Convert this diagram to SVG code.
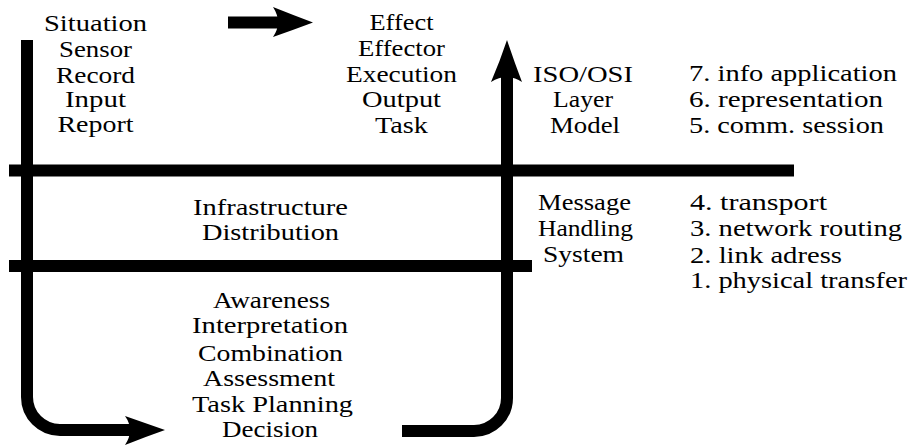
<svg xmlns="http://www.w3.org/2000/svg" width="913" height="446" viewBox="0 0 913 446">
<style>
text{font-family:"Liberation Serif","DejaVu Serif","Times New Roman",serif;font-size:23px;fill:#000}
.c{text-anchor:middle}
.l{text-anchor:start}
.bar{fill:none;stroke:#000;stroke-width:12}
.head{fill:#000;stroke:none}
</style>
<rect width="913" height="446" fill="#fff"/>
<g id="connectors">
<line class="bar" x1="9" y1="170.5" x2="794" y2="170.5"/>
<line class="bar" x1="9" y1="266" x2="532" y2="266"/>
<path class="bar" d="M27,40 V397 A33,33 0 0 0 60,430 H132"/>
<path class="head" d="M165,430 Q145,423 125,416 Q135,430 125,445 Q145,437 165,430 Z"/>
<path class="bar" d="M402,431 H474 A33,33 0 0 0 507,398 V76"/>
<path class="head" d="M507,40 Q500,61 491,82 Q507,72 522,82 Q514,61 507,40 Z"/>
<line class="bar" x1="228" y1="22.5" x2="282" y2="22.5"/>
<path class="head" d="M313,22.5 Q293,15 273,7 Q283,22.5 273,37 Q293,30 313,22.5 Z"/>
</g>
<g id="input">
<text class="c" x="95.5" y="31" textLength="103" lengthAdjust="spacingAndGlyphs">Situation</text>
<text class="c" x="95.5" y="57" textLength="73" lengthAdjust="spacingAndGlyphs">Sensor</text>
<text class="c" x="95.5" y="83" textLength="79" lengthAdjust="spacingAndGlyphs">Record</text>
<text class="c" x="95.5" y="107" textLength="61" lengthAdjust="spacingAndGlyphs">Input</text>
<text class="c" x="95.5" y="132" textLength="76" lengthAdjust="spacingAndGlyphs">Report</text>
</g>
<g id="output">
<text class="c" x="401.5" y="30" textLength="64" lengthAdjust="spacingAndGlyphs">Effect</text>
<text class="c" x="401.5" y="56" textLength="87" lengthAdjust="spacingAndGlyphs">Effector</text>
<text class="c" x="401.5" y="82" textLength="111" lengthAdjust="spacingAndGlyphs">Execution</text>
<text class="c" x="401.5" y="107" textLength="79" lengthAdjust="spacingAndGlyphs">Output</text>
<text class="c" x="401.5" y="133" textLength="53" lengthAdjust="spacingAndGlyphs">Task</text>
</g>
<g id="iso-osi">
<text class="c" x="583" y="82" textLength="100" lengthAdjust="spacingAndGlyphs">ISO/OSI</text>
<text class="c" x="583" y="107" textLength="60" lengthAdjust="spacingAndGlyphs">Layer</text>
<text class="c" x="585" y="133" textLength="70" lengthAdjust="spacingAndGlyphs">Model</text>
</g>
<g id="upper-layers">
<text class="l" x="689" y="81" textLength="208" lengthAdjust="spacingAndGlyphs">7. info application</text>
<text class="l" x="689" y="107" textLength="194" lengthAdjust="spacingAndGlyphs">6. representation</text>
<text class="l" x="689" y="133" textLength="195" lengthAdjust="spacingAndGlyphs">5. comm. session</text>
</g>
<g id="infrastructure">
<text class="c" x="270.5" y="215" textLength="155" lengthAdjust="spacingAndGlyphs">Infrastructure</text>
<text class="c" x="270.5" y="240" textLength="137" lengthAdjust="spacingAndGlyphs">Distribution</text>
</g>
<g id="mhs">
<text class="c" x="584.5" y="210" textLength="93" lengthAdjust="spacingAndGlyphs">Message</text>
<text class="c" x="585.5" y="236" textLength="95" lengthAdjust="spacingAndGlyphs">Handling</text>
<text class="c" x="583.5" y="262" textLength="81" lengthAdjust="spacingAndGlyphs">System</text>
</g>
<g id="lower-layers">
<text class="l" x="690" y="210" textLength="137" lengthAdjust="spacingAndGlyphs">4. transport</text>
<text class="l" x="690" y="236" textLength="212" lengthAdjust="spacingAndGlyphs">3. network routing</text>
<text class="l" x="690" y="263" textLength="152" lengthAdjust="spacingAndGlyphs">2. link adress</text>
<text class="l" x="690" y="288" textLength="217" lengthAdjust="spacingAndGlyphs">1. physical transfer</text>
</g>
<g id="processing">
<text class="c" x="271.5" y="308" textLength="117" lengthAdjust="spacingAndGlyphs">Awareness</text>
<text class="c" x="270" y="333" textLength="156" lengthAdjust="spacingAndGlyphs">Interpretation</text>
<text class="c" x="270.5" y="361" textLength="145" lengthAdjust="spacingAndGlyphs">Combination</text>
<text class="c" x="269" y="386" textLength="132" lengthAdjust="spacingAndGlyphs">Assessment</text>
<text class="c" x="272.5" y="412" textLength="161" lengthAdjust="spacingAndGlyphs">Task Planning</text>
<text class="c" x="270" y="437" textLength="96" lengthAdjust="spacingAndGlyphs">Decision</text>
</g>
</svg>
